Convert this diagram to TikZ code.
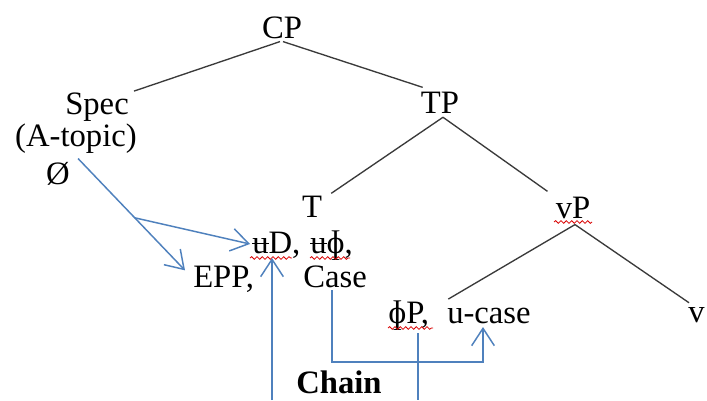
\documentclass[tikz,border=0pt]{standalone}
\usepackage{fontspec}
\setmainfont{LiberationSerif}[Extension=.ttf, UprightFont=*-Regular, BoldFont=*-Bold, ItalicFont=*-Italic, BoldItalicFont=*-BoldItalic]
\usetikzlibrary{calc,decorations.pathmorphing,arrows.meta}
\definecolor{chainblue}{HTML}{4F81BD}
\definecolor{treegrey}{HTML}{3A3A3A}
\newcommand\struck[1]{\ooalign{#1\cr\hidewidth\rule[0.27em]{0.5em}{0.05em}\hidewidth\cr}}
\tikzset{
  lbl/.style={anchor=base, inner sep=0pt, font=\rmfamily\fontsize{24.5}{28}\selectfont},
  lblw/.style={lbl, anchor=base west},
  branch/.style={draw=treegrey, line width=1pt},
  chainarrow/.style={draw=chainblue, line width=1.1pt, -{Straight Barb[length=13pt,width=17pt]}},
  chainline/.style={draw=chainblue, line width=1.1pt},
  spell/.style={draw=red!85!black, line width=0.6pt, decorate, decoration={snake, amplitude=1, segment length=4}}
}
\begin{document}
\begin{tikzpicture}[x=0.75pt,y=-0.75pt]
\fill[white] (0,0) rectangle (707,400);
\useasboundingbox (0,0) rectangle (707,400);

% nodes
\node[lbl] (CP) at (282,38) {CP};
\node[lbl] (Spec) at (97,114) {Spec};
\node[lbl] (Atopic) at (76,146) {(A-topic)};
\node[lbl] (empty) at (58,184) {Ø};
\node[lbl] (TP) at (440,113) {TP};
\node[lbl] (T) at (312,217) {T};
\node[lblw] (uD) at (252,253) {\struck{u}D,};
\node[lblw] (uphi) at (310,253) {\struck{u}ɸ,};
\node[lblw] (EPP) at (193,287) {EPP,};
\node[lblw] (Case) at (303,287) {Case};
\node[lbl] (vP) at (573,218) {vP};
\node[lblw] (phiP) at (388,323) {ɸP,};
\node[lblw] (ucase) at (447,323) {u-case};
\node[lblw] (v) at (688,322) {v};
\node[lbl, font=\rmfamily\fontsize{24.5}{28}\selectfont\bfseries] (Chain) at (339,393) {Chain};

% spell-check underlines
\draw[spell] ($(uD.base west)+(-2,5)$) -- ($(uD.base west)+(40,5)$);
\draw[spell] ($(uphi.base west)+(0,5)$) -- ($(uphi.base west)+(40,5)$);
\draw[spell] ($(phiP.base west)+(0,5)$) -- ($(phiP.base west)+(45,5)$);
\draw[spell] ($(vP.base)+(-19,4)$) -- ($(vP.base)+(19,4)$);

% tree branches
\draw[branch] ($(CP.south)+(-2,3)$) -- ($(Spec.north east)+(5,-1)$);
\draw[branch] ($(CP.south)+(1,3)$) -- ($(TP.north west)+(2,-4)$);
\draw[branch] ($(TP.south)+(3,4)$) -- ($(T.north east)+(9,-2)$);
\draw[branch] ($(TP.south)+(3,4)$) -- ($(vP.north west)+(-8,-5)$);
\draw[branch] ($(vP.south)+(2,6)$) -- ($(phiP.north east)+(19,-1)$);
\draw[branch] ($(vP.south)+(2,6)$) -- ($(v.north west)+(1,-4)$);

% chain arrows
\coordinate (astart) at ($(empty.north east)+(8,-3)$);
\coordinate (aend) at ($(EPP.north west)+(-8,5)$);
\draw[chainarrow] (astart) -- (aend);
\coordinate (fork) at ($(astart)!0.53!(aend)$);
\draw[chainarrow] (fork) -- ($(uD.base west)+(-2,-9)$);
\coordinate (bottomL) at (272,400);
\coordinate (bottomR) at (418,400);
\draw[chainarrow] (bottomL) -- ($(uD.base west)+(20,5)$);
\draw[chainarrow] ($(Case.base west)+(29,3)$) -- ++(0,72) -| ($(ucase.base west)+(36,4)$);
\draw[chainline] ($(phiP.base west)+(30,10)$) -- (bottomR);
\end{tikzpicture}
\end{document}
